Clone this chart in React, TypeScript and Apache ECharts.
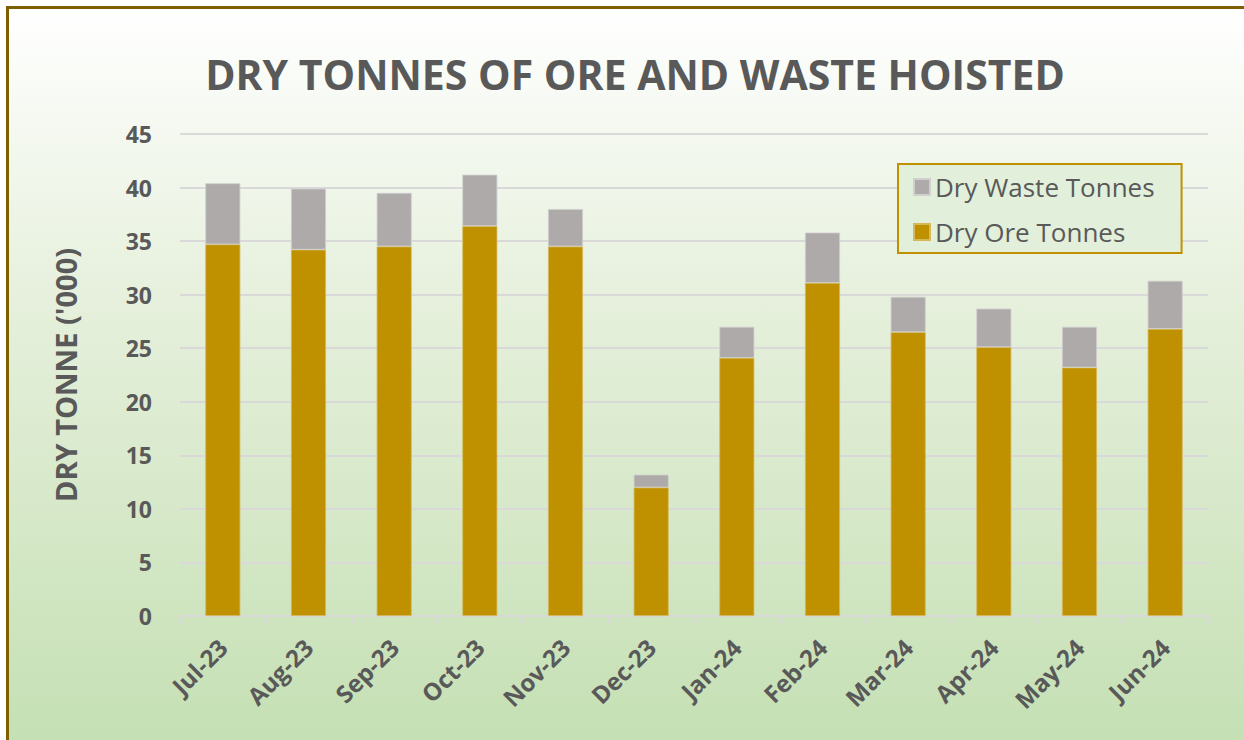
import React, { useEffect, useRef } from "react";
import * as echarts from "echarts";

const categories = ["Jul-23", "Aug-23", "Sep-23", "Oct-23", "Nov-23", "Dec-23", "Jan-24", "Feb-24", "Mar-24", "Apr-24", "May-24", "Jun-24"];
const oreTonnes = [34.7, 34.2, 34.5, 36.4, 34.5, 12.0, 24.1, 31.1, 26.5, 25.1, 23.2, 26.8];
const wasteTonnes = [5.7, 5.7, 5.0, 4.8, 3.5, 1.2, 2.9, 4.7, 3.3, 3.6, 3.8, 4.5];
const titleText = "DRY TONNES OF ORE AND WASTE HOISTED";
const yAxisTitle = "DRY TONNE ('000)";

const FONT = "'Open Sans', 'DejaVu Sans', sans-serif";
const TXT = "#595959";

export default function App() {
  const ref = useRef<HTMLDivElement>(null);
  useEffect(() => {
    document.body.style.margin = "0";
    const chart = echarts.init(ref.current!, null, { renderer: "svg" });
    chart.setOption({
      animation: false,
      backgroundColor: "transparent",
      textStyle: { fontFamily: FONT },
      title: {
        text: titleText,
        left: 630,
        top: 48,
        textAlign: "center",
        textStyle: { fontFamily: FONT, fontSize: 41, fontWeight: "bold", color: TXT },
      },
      legend: {
        orient: "vertical",
        left: 898,
        top: 164,
        padding: [10, 27, 8, 15],
        itemGap: 19,
        itemWidth: 16,
        itemHeight: 16,
        backgroundColor: "#E2EFDA",
        borderColor: "#BF9000",
        borderWidth: 2,
        borderRadius: 0,
        icon: "rect",
        data: ["Dry Waste Tonnes", "Dry Ore Tonnes"],
        textStyle: { fontFamily: FONT, fontSize: 26, color: TXT },
      },
      grid: { left: 180, right: 36, top: 134, bottom: 124, containLabel: false },
      xAxis: {
        type: "category",
        data: categories,
        boundaryGap: true,
        axisLine: { lineStyle: { color: "#D9D9D9", width: 2 } },
        axisTick: { show: true, length: 8, lineStyle: { color: "#D9D9D9", width: 2 } },
        axisLabel: {
          rotate: 45,
          margin: 27,
          fontFamily: FONT,
          fontSize: 24,
          fontWeight: "bold",
          color: TXT,
        },
      },
      yAxis: {
        type: "value",
        min: 0,
        max: 45,
        interval: 5,
        name: yAxisTitle,
        nameLocation: "middle",
        nameGap: 100,
        nameTextStyle: { fontFamily: FONT, fontSize: 29, fontWeight: "bold", color: TXT },
        axisLine: { show: false },
        axisTick: { show: false },
        splitLine: { lineStyle: { color: "#D9D9D9", width: 2 } },
        axisLabel: { margin: 28, fontFamily: FONT, fontSize: 23, fontWeight: "bold", color: TXT },
      },
      series: [
        {
          name: "Dry Ore Tonnes",
          type: "bar",
          stack: "total",
          barWidth: 35,
          data: oreTonnes,
          itemStyle: { color: "#BF9000", borderColor: "#D4B85A", borderWidth: 0.8 },
        },
        {
          name: "Dry Waste Tonnes",
          type: "bar",
          stack: "total",
          barWidth: 35,
          data: wasteTonnes,
          itemStyle: { color: "#AEAAAA", borderColor: "#D0CECE", borderWidth: 0.8 },
        },
      ],
    });
    return () => chart.dispose();
  }, []);
  return (
    <div style={{ position: "absolute", left: 0, top: 0, width: 1244, height: 740, background: "#FFFFFF", overflow: "hidden" }}>
      <div
        style={{
          position: "absolute",
          left: 6,
          top: 6,
          width: 1238,
          height: 734,
          borderLeft: "3px solid #7F6000",
          borderTop: "3px solid #7F6000",
          boxSizing: "border-box",
          background: "linear-gradient(to bottom, #FFFFFF 0%, #E6F0DC 40%, #C5E0B4 100%)",
        }}
      >
        <div ref={ref} style={{ position: "absolute", left: -9, top: -9, width: 1244, height: 740 }} />
      </div>
    </div>
  );
}
